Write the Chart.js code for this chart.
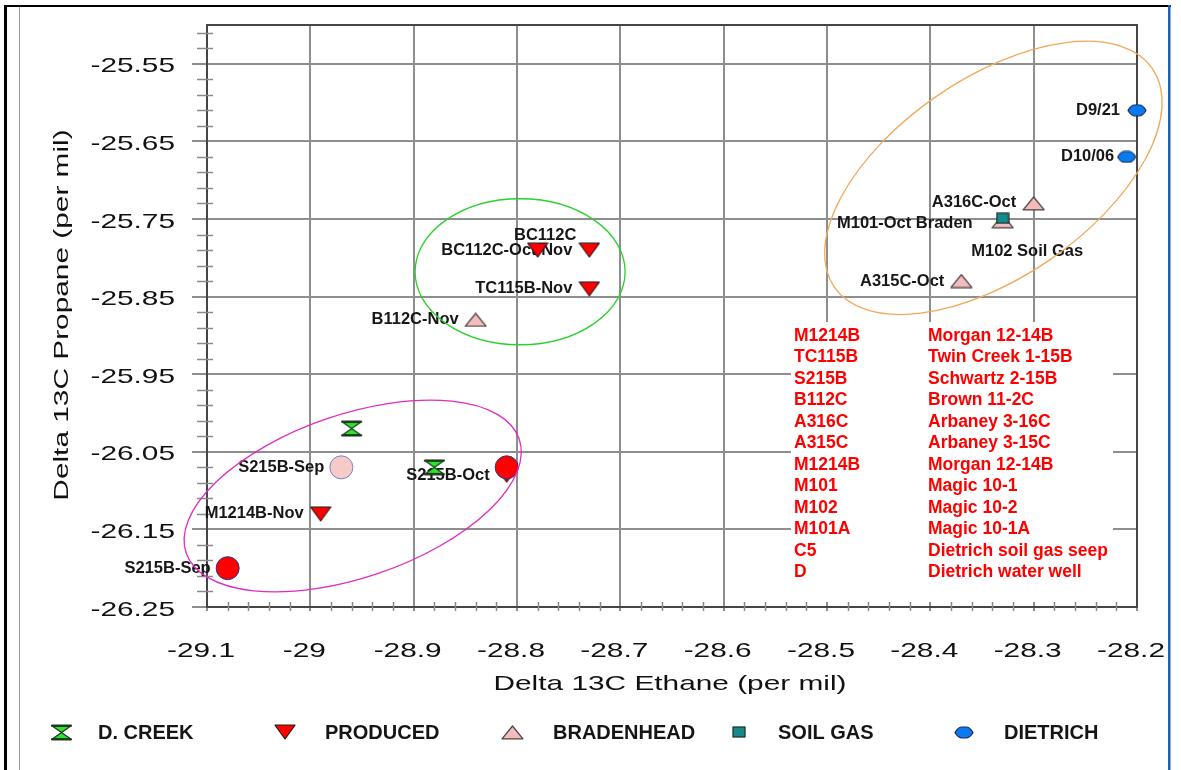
<!DOCTYPE html>
<html>
<head>
<meta charset="utf-8">
<script src="https://cdn.jsdelivr.net/npm/chart.js@4/dist/chart.umd.min.js"></script>
<style>
  html, body { margin: 0; padding: 0; background: #ffffff; }
  canvas { display: block; }
</style>
</head>
<body>
<canvas id="chart" width="1181" height="770"></canvas>
<script>
// Delta 13C ethane (x) and propane (y), per mil, by sample group
const dCreekEthane = [-28.96, -28.88];
const dCreekPropane = [-26.02, -26.07];
const dCreekNames = ['', ''];

const producedEthane = [-28.73, -28.78, -28.73, -28.99, -28.81];
const producedPropane = [-25.79, -25.79, -25.84, -26.13, -26.08];
const producedNames = ['BC112C-Oct/Nov', 'BC112C', 'TC115B-Nov', 'M1214B-Nov', 'S215B-Oct'];

const bradenheadEthane = [-28.84, -28.30, -28.33, -28.37];
const bradenheadPropane = [-25.88, -25.73, -25.753, -25.83];
const bradenheadNames = ['B112C-Nov', 'A316C-Oct', 'M101-Oct Braden', 'A315C-Oct'];

const soilGasEthane = [-28.33];
const soilGasPropane = [-25.749];
const soilGasNames = ['M102 Soil Gas'];

const dietrichEthane = [-28.20, -28.21];
const dietrichPropane = [-25.61, -25.67];
const dietrichNames = ['D9/21', 'D10/06'];

// S215B samples highlighted with large circles
const s215bEthane = [-28.97, -28.81, -29.08];
const s215bPropane = [-26.07, -26.07, -26.20];
const s215bNames = ['S215B-Sep', '', 'S215B-Sep'];

const xTickValues = [-29.1, -29.0, -28.9, -28.8, -28.7, -28.6, -28.5, -28.4, -28.3, -28.2];
const xTickLabels = ['-29.1', '-29', '-28.9', '-28.8', '-28.7', '-28.6', '-28.5', '-28.4', '-28.3', '-28.2'];
const yTickValues = [-26.25, -26.15, -26.05, -25.95, -25.85, -25.75, -25.65, -25.55];
const yTickLabels = ['-26.25', '-26.15', '-26.05', '-25.95', '-25.85', '-25.75', '-25.65', '-25.55'];

const seriesNames = ['D. CREEK', 'PRODUCED', 'BRADENHEAD', 'SOIL GAS', 'DIETRICH'];

const wellCodes = ['M1214B', 'TC115B', 'S215B', 'B112C', 'A316C', 'A315C', 'M1214B', 'M101', 'M102', 'M101A', 'C5', 'D'];
const wellNames = ['Morgan 12-14B', 'Twin Creek 1-15B', 'Schwartz 2-15B', 'Brown 11-2C', 'Arbaney 3-16C', 'Arbaney 3-15C',
  'Morgan 12-14B', 'Magic 10-1', 'Magic 10-2', 'Magic 10-1A', 'Dietrich soil gas seep', 'Dietrich water well'];

const FONT = '"Liberation Sans", Arial, Helvetica, sans-serif';

// ---- marker glyphs ----
function glyph(w, h, paint) {
  const c = document.createElement('canvas');
  c.width = w; c.height = h;
  paint(c.getContext('2d'), w, h);
  return c;
}
const hourglassGlyph = glyph(23, 17, (g, w, h) => {
  g.beginPath();
  g.moveTo(1.5, 1.5); g.lineTo(w - 1.5, 1.5); g.lineTo(w / 2, h / 2);
  g.lineTo(w - 1.5, h - 1.5); g.lineTo(1.5, h - 1.5); g.lineTo(w / 2, h / 2); g.closePath();
  g.fillStyle = '#2ee32e'; g.fill();
  g.strokeStyle = '#1c3a1c'; g.lineWidth = 1.2; g.lineJoin = 'round'; g.stroke();
  g.lineWidth = 2.4;
  g.beginPath(); g.moveTo(1.5, 1.8); g.lineTo(w - 1.5, 1.8); g.moveTo(1.5, h - 1.8); g.lineTo(w - 1.5, h - 1.8); g.stroke();
});
const downTriangleGlyph = glyph(22, 16, (g, w, h) => {
  g.beginPath(); g.moveTo(1, 1.2); g.lineTo(w - 1, 1.2); g.lineTo(w / 2, h - 1); g.closePath();
  g.fillStyle = '#ff0000'; g.fill();
  g.strokeStyle = '#3a1616'; g.lineWidth = 1.2; g.lineJoin = 'round'; g.stroke();
});
const upTriangleGlyph = glyph(23, 15, (g, w, h) => {
  g.beginPath(); g.moveTo(w / 2, 1); g.lineTo(w - 1, h - 1.2); g.lineTo(1, h - 1.2); g.closePath();
  g.fillStyle = '#f3bcbc'; g.fill();
  g.strokeStyle = '#4a4040'; g.lineWidth = 1.2; g.lineJoin = 'round'; g.stroke();
});
const squareGlyph = glyph(14, 12, (g, w, h) => {
  g.fillStyle = '#148a8a'; g.fillRect(1, 1, w - 2, h - 2);
  g.strokeStyle = '#1a2c2c'; g.lineWidth = 1.2; g.strokeRect(1, 1, w - 2, h - 2);
});
const hexGlyph = glyph(20, 13, (g, w, h) => {
  g.beginPath();
  g.moveTo(1, h / 2); g.quadraticCurveTo(4, 1, 8, 1); g.lineTo(w - 8, 1); g.quadraticCurveTo(w - 4, 1, w - 1, h / 2);
  g.quadraticCurveTo(w - 4, h - 1, w - 8, h - 1); g.lineTo(8, h - 1); g.quadraticCurveTo(4, h - 1, 1, h / 2); g.closePath();
  g.fillStyle = '#0a7af2'; g.fill();
  g.strokeStyle = '#1a2a55'; g.lineWidth = 1.2; g.lineJoin = 'round'; g.stroke();
});

function pts(xs, ys) { return xs.map((x, i) => ({ x: x, y: ys[i] })); }

// index 0 is painted last (on top)
const datasets = [
  { label: 'S215B', data: pts(s215bEthane, s215bPropane), pointStyle: 'circle', pointRadius: 11.5,
    backgroundColor: ['#f8c9c9', '#ff0000', '#ff0000'], borderColor: ['#7088c0', '#27378a', '#27378a'], borderWidth: 1 },
  { label: seriesNames[3], data: pts(soilGasEthane, soilGasPropane), pointStyle: squareGlyph, pointRadius: 7 },
  { label: seriesNames[4], data: pts(dietrichEthane, dietrichPropane), pointStyle: hexGlyph, pointRadius: 9 },
  { label: seriesNames[1], data: pts(producedEthane, producedPropane), pointStyle: downTriangleGlyph, pointRadius: 10 },
  { label: seriesNames[2], data: pts(bradenheadEthane, bradenheadPropane), pointStyle: upTriangleGlyph, pointRadius: 10 },
  { label: seriesNames[0], data: pts(dCreekEthane, dCreekPropane), pointStyle: hourglassGlyph, pointRadius: 10 }
].map(ds => Object.assign(ds, { clip: false }));
const pointNames = [s215bNames, soilGasNames, dietrichNames, producedNames, bradenheadNames, dCreekNames];
const legendGlyphs = [hourglassGlyph, downTriangleGlyph, upTriangleGlyph, squareGlyph, hexGlyph];

// where a point label sits relative to its marker (pixels)
const defaultSpot = { dx: -17, dy: 0, align: 'right' };
const labelSpots = {
  'BC112C': { dx: 7.5, dy: -15, align: 'center' },
  'M101-Oct Braden': { dx: -30, dy: 2.5, align: 'right' },
  'M102 Soil Gas': { dx: 24.5, dy: 33.5, align: 'center' },
  'D10/06': { dx: -12.5, dy: 0, align: 'right' },
  'A316C-Oct': { dx: -17.5, dy: -0.7, align: 'right' }
};

// grouping ellipses: centre in data units, radii in pixels
const groupRings = [
  { x: -28.797, y: -25.818, rx: 105, ry: 73, angle: 0, color: '#2ccf2c' },
  { x: -28.339, y: -25.697, rx: 193, ry: 99.5, angle: -34.5, color: '#f2a85a' },
  { x: -28.959, y: -26.107, rx: 176, ry: 81.5, angle: -18.9, color: '#e02cc0' }
];

function wideText(ctx, text, x, y, o) {
  ctx.save();
  ctx.translate(x, y);
  if (o.rotate) ctx.rotate(o.rotate);
  ctx.scale(o.sx || 1, 1);
  ctx.font = o.font;
  ctx.fillStyle = o.color || '#111';
  ctx.textAlign = o.align || 'left';
  ctx.textBaseline = o.baseline || 'middle';
  ctx.fillText(text, 0, 0);
  ctx.restore();
}

const decorations = {
  id: 'decorations',
  beforeDraw(chart) {
    const ctx = chart.ctx;
    ctx.save();
    ctx.fillStyle = '#ffffff';
    ctx.fillRect(0, 0, chart.width, chart.height);
    ctx.restore();
  },
  beforeDatasetsDraw(chart) {
    const ctx = chart.ctx;
    const xs = chart.scales.x, ys = chart.scales.y;
    const a = chart.chartArea;
    ctx.save();

    // key box for well abbreviations
    ctx.fillStyle = '#ffffff';
    ctx.fillRect(791, 322, 322, 280);
    ctx.font = 'bold 17.5px ' + FONT;
    ctx.fillStyle = '#ff0000';
    ctx.textBaseline = 'middle';
    ctx.textAlign = 'left';
    wellCodes.forEach((code, i) => {
      const y = 336 + i * 21.5;
      ctx.fillText(code, 794, y);
      ctx.fillText(wellNames[i], 928, y);
    });

    // top and right frame
    ctx.strokeStyle = '#454545';
    ctx.lineWidth = 2;
    ctx.beginPath();
    ctx.moveTo(a.left, a.top); ctx.lineTo(a.right, a.top); ctx.lineTo(a.right, a.bottom);
    ctx.stroke();

    // minor ticks every 0.02
    ctx.strokeStyle = '#8a8a8a';
    ctx.lineWidth = 1.5;
    ctx.beginPath();
    for (let i = 1; i < 38; i++) {
      if (i % 5 === 0) continue;
      const py = Math.round(ys.getPixelForValue(-26.25 + i * 0.02)) + 0.5;
      ctx.moveTo(a.left - 10, py); ctx.lineTo(a.left + 6, py);
    }
    for (let i = 1; i < 45; i++) {
      if (i % 5 === 0) continue;
      const px = Math.round(xs.getPixelForValue(-29.1 + i * 0.02)) + 0.5;
      ctx.moveTo(px, a.bottom - 5); ctx.lineTo(px, a.bottom + 4);
    }
    ctx.stroke();

    // tick labels and axis titles
    const axisFont = '21px ' + FONT;
    yTickValues.forEach((v, i) => {
      wideText(ctx, yTickLabels[i], a.left - 32, ys.getPixelForValue(v) + 8.5,
        { font: axisFont, sx: 1.42, align: 'right', baseline: 'alphabetic' });
    });
    xTickValues.forEach((v, i) => {
      wideText(ctx, xTickLabels[i], xs.getPixelForValue(v) - 6, 657,
        { font: axisFont, sx: 1.42, align: 'center', baseline: 'alphabetic' });
    });
    wideText(ctx, 'Delta 13C Ethane (per mil)', (a.left + a.right) / 2 - 2, 690,
      { font: axisFont, sx: 1.42, align: 'center', baseline: 'alphabetic' });
    wideText(ctx, 'Delta 13C Propane (per mil)', 68, 315,
      { font: axisFont, sx: 1.42, align: 'center', baseline: 'alphabetic', rotate: -Math.PI / 2 });

    // point labels
    ctx.font = 'bold 16.5px ' + FONT;
    ctx.fillStyle = '#171717';
    ctx.textBaseline = 'middle';
    chart.data.datasets.forEach((ds, di) => {
      const meta = chart.getDatasetMeta(di);
      pointNames[di].forEach((name, i) => {
        if (!name) return;
        const el = meta.data[i];
        const s = labelSpots[name] || defaultSpot;
        ctx.textAlign = s.align;
        ctx.fillText(name, el.x + s.dx, el.y + s.dy);
      });
    });
    ctx.restore();
  },
  afterDatasetsDraw(chart) {
    const ctx = chart.ctx;
    const xs = chart.scales.x, ys = chart.scales.y;
    ctx.save();
    ctx.lineWidth = 1.3;
    groupRings.forEach(r => {
      ctx.strokeStyle = r.color;
      ctx.beginPath();
      ctx.ellipse(xs.getPixelForValue(r.x), ys.getPixelForValue(r.y), r.rx, r.ry, r.angle * Math.PI / 180, 0, Math.PI * 2);
      ctx.stroke();
    });
    ctx.restore();
  },
  afterDraw(chart) {
    const ctx = chart.ctx;
    ctx.save();
    // legend row
    const markX = [61, 285, 512, 739, 964];
    const textX = [98, 325, 553, 778, 1004];
    const rowY = 732;
    ctx.font = 'bold 20px ' + FONT;
    ctx.fillStyle = '#151515';
    ctx.textBaseline = 'middle';
    ctx.textAlign = 'left';
    seriesNames.forEach((name, i) => {
      const g = legendGlyphs[i];
      ctx.drawImage(g, Math.round(markX[i] - g.width / 2), Math.round(rowY - g.height / 2));
      ctx.fillText(name, textX[i], rowY + 1);
    });
    // page frame
    ctx.fillStyle = '#000000';
    ctx.fillRect(4, 5, 3, chart.height - 5);
    ctx.fillRect(4, 5, 1167, 2);
    ctx.fillStyle = '#9a9a9a';
    ctx.fillRect(19, 7, 1, chart.height - 7);
    ctx.fillStyle = '#2360b0';
    ctx.fillRect(1168, 5, 2.5, chart.height - 5);
    ctx.restore();
  }
};

new Chart(document.getElementById('chart'), {
  type: 'scatter',
  data: { datasets: datasets },
  options: {
    responsive: false,
    animation: false,
    devicePixelRatio: 1,
    layout: { padding: { left: 0, top: 25, right: 44, bottom: 0 } },
    plugins: { legend: { display: false }, tooltip: { enabled: false } },
    scales: {
      x: {
        type: 'linear', min: -29.1, max: -28.2,
        afterFit: s => { s.height = 163; },
        afterBuildTicks: s => { s.ticks = xTickValues.map(v => ({ value: v })); },
        ticks: { display: false },
        grid: { color: '#8e8e8e', lineWidth: 2, tickLength: 4 },
        border: { display: true, color: '#454545', width: 2 }
      },
      y: {
        type: 'linear', min: -26.25, max: -25.5,
        afterFit: s => { s.width = 207; },
        afterBuildTicks: s => { s.ticks = yTickValues.map(v => ({ value: v })); },
        ticks: { display: false },
        grid: { color: '#8e8e8e', lineWidth: 2, tickLength: 15 },
        border: { display: true, color: '#454545', width: 2 }
      }
    }
  },
  plugins: [decorations]
});
</script>
</body>
</html>
